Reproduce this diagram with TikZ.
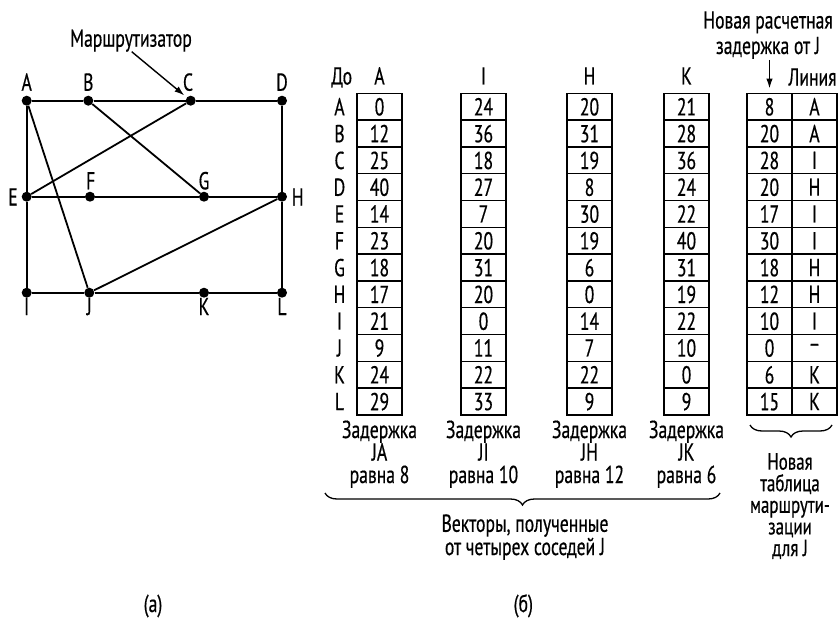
\documentclass[tikz,border=0pt]{standalone}
\usepackage{fontspec}
\setmainfont{PT Sans}[FakeStretch=0.72,FakeBold=0.5]
\usetikzlibrary{arrows.meta,decorations.pathreplacing}

\newcommand\figfont{\fontsize{24.5}{22.5}\selectfont}

\tikzset{
  router/.style={circle,fill=black,inner sep=0pt,minimum size=10pt},
  link/.style={line width=1.8pt},
  cell/.style={draw,line width=1.5pt,minimum width=45pt,minimum height=26.8pt,inner sep=0pt,text depth=0pt},
  rowlbl/.style={inner sep=0pt,text depth=0pt},
  lbl/.style={inner sep=0pt,anchor=base},
  note/.style={inner sep=0pt,anchor=base,align=center},
  ptr/.style={line width=1.4pt,-{Latex[length=10pt,width=6.5pt]}},
}

\begin{document}
\begin{tikzpicture}[x=1pt,y=-1pt,every node/.style={font=\figfont}]
\useasboundingbox (0,0) rectangle (840,618);
% (a) network
\node[router] (A) at (26.7,100.7) {};
\node[router] (B) at (88.3,100.7) {};
\node[router] (C) at (190.7,100.7) {};
\node[router] (D) at (282,100.7) {};
\node[router] (E) at (26.7,196.7) {};
\node[router] (F) at (90,196.7) {};
\node[router] (G) at (204,196.7) {};
\node[router] (H) at (282,196.7) {};
\node[router] (I) at (26.7,292.7) {};
\node[router] (J) at (89.3,292.7) {};
\node[router] (K) at (204,292.7) {};
\node[router] (L) at (282,292.7) {};
\node[lbl] (lA) at (26.7,90.7) {A};
\node[lbl] (lB) at (88.3,90.7) {B};
\node[lbl] (lC) at (188,90.7) {C};
\node[lbl] (lD) at (282,90.7) {D};
\node[lbl] (lE) at (13,205.5) {E};
\node[lbl] (lF) at (90.7,189.3) {F};
\node[lbl] (lG) at (204,189.3) {G};
\node[lbl] (lH) at (297.7,205.5) {H};
\node[lbl] (lI) at (26.7,315) {I};
\node[lbl] (lJ) at (89.3,315) {J};
\node[lbl] (lK) at (204,315) {K};
\node[lbl] (lL) at (282,315) {L};
\draw[link] (A) -- (B) -- (C) -- (D) -- (H) -- (L) -- (K) -- (J) -- (I) -- (E) -- (A);
\draw[link] (E) -- (F) -- (G) -- (H);
\draw[link] (A) -- (J);
\draw[link] (B) -- (G);
\draw[link] (C) -- (E);
\draw[link] (J) -- (H);
\node[lbl] (rtr) at (131,46.7) {Маршрутизатор};
\coordinate (rtrtail) at (131.7,51.7);
\draw[ptr,shorten >=3pt] (rtrtail) -- (C);
\node[lbl] (capa) at (153,612) {(а)};
% (b) vectors
\node[lbl] (hTo) at (341.7,84.5) {До};
\node[lbl] (hA) at (379.5,84.5) {A};
\node[lbl] (hI) at (483.5,84.5) {I};
\node[lbl] (hH) at (589.5,84.5) {H};
\node[lbl] (hK) at (686.5,84.5) {K};
\node[lbl] (hLink) at (812.5,85.5) {Линия};
\foreach \r [count=\i] in {A,B,C,D,E,F,G,H,I,J,K,L}
  \node[rowlbl] (row\i) at (339.5,{93.3+(\i-0.5)*26.8}) {\r};
\foreach \v [count=\i] in {0,12,25,40,14,23,18,17,21,9,24,29}
  \node[cell] (va\i) at (379.5,{93.3+(\i-0.5)*26.8}) {\v};
\foreach \v [count=\i] in {24,36,18,27,7,20,31,20,0,11,22,33}
  \node[cell] (vi\i) at (483.5,{93.3+(\i-0.5)*26.8}) {\v};
\foreach \v [count=\i] in {20,31,19,8,30,19,6,0,14,7,22,9}
  \node[cell] (vh\i) at (589.5,{93.3+(\i-0.5)*26.8}) {\v};
\foreach \v [count=\i] in {21,28,36,24,22,40,31,19,22,10,0,9}
  \node[cell] (vk\i) at (686.5,{93.3+(\i-0.5)*26.8}) {\v};
\foreach \v [count=\i] in {8,20,28,20,17,30,18,12,10,0,6,15}
  \node[cell] (nd\i) at (769.5,{93.3+(\i-0.5)*26.8}) {\v};
\foreach \v [count=\i] in {A,A,I,H,I,I,H,H,I,–,K,K}
  \node[cell] (nl\i) at (814.5,{93.3+(\i-0.5)*26.8}) {\v};
\node[note,font={\fontsize{24.5}{25.5}\selectfont}] (newd) at (768,54) {Новая расчетная\\задержка от J};
\coordinate (ndtail) at (769.5,60);
\draw[ptr,shorten >=4pt] (ndtail) -- (nd1.north);
\node[note] (dA) at (379.5,483) {Задержка\\JA\\равна 8};
\node[note] (dI) at (483.5,483) {Задержка\\JI\\равна 10};
\node[note] (dH) at (589.5,483) {Задержка\\JH\\равна 12};
\node[note] (dK) at (686.5,483) {Задержка\\JK\\равна 6};
\coordinate (vb1) at (325,493);
\coordinate (vb2) at (720,493);
\draw[line width=1.3pt,decorate,decoration={brace,mirror,amplitude=12pt}] (vb1) -- (vb2);
\node[note,font={\fontsize{24.5}{22}\selectfont}] (vec) at (525,555) {Векторы, полученные\\от четырех соседей J};
\coordinate (tb1) at (750,425);
\coordinate (tb2) at (832,425);
\draw[line width=1.3pt,decorate,decoration={brace,mirror,amplitude=12pt}] (tb1) -- (tb2);
\node[note,font={\fontsize{23.5}{21.6}\selectfont}] (newtab) at (790,556) {Новая\\таблица\\маршрути-\\зации\\для J};
\node[lbl] (capb) at (523.3,612) {(б)};
\end{tikzpicture}
\end{document}
